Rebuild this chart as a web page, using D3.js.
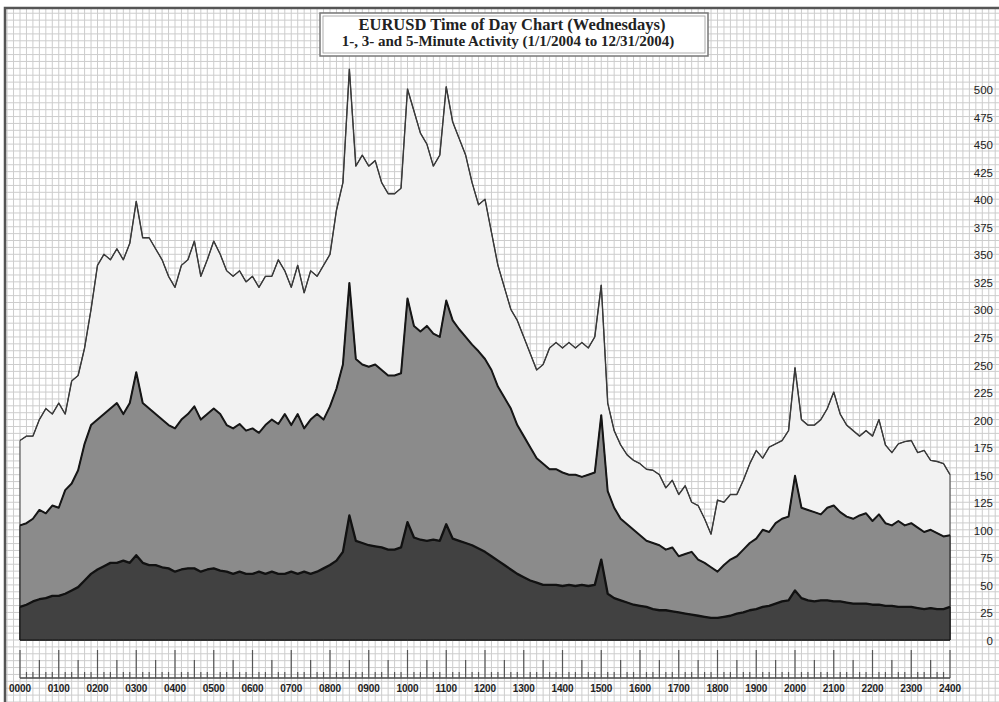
<!DOCTYPE html>
<html lang="en">
<head>
<meta charset="UTF-8">
<title>EURUSD Time of Day Chart</title>
<script src="https://d3js.org/d3.v7.min.js"></script>
<style>
  body { margin: 0; background: #fff; }
  svg { display: block; }
</style>
</head>
<body>
<div id="chart"></div>
<script>
// sample every 10 minutes, 0000 .. 2400
const minutes = d3.range(0, 1441, 10);

// 5-minute activity (light area)
const fiveMin = [
  181,185,185,200,210,205,   // 00
  215,205,235,240,265,300,   // 01
  340,350,345,355,345,360,   // 02
  398,365,365,355,345,330,   // 03
  320,340,345,362,330,345,   // 04
  362,350,335,330,335,325,   // 05
  330,320,330,330,345,335,   // 06
  320,340,315,335,330,340,   // 07
  350,390,415,518,430,440,   // 08
  430,435,415,405,405,410,   // 09
  500,480,460,450,430,440,   // 10
  502,470,455,440,415,395,   // 11
  400,370,340,320,300,290,   // 12
  275,260,245,250,265,270,   // 13
  265,270,265,270,265,275,   // 14
  322,215,190,177,168,163,   // 15
  160,155,154,150,138,145,   // 16
  132,140,125,122,110,96,    // 17
  127,125,132,132,145,160,   // 18
  172,165,175,178,181,190,   // 19
  247,200,195,195,200,210,   // 20
  225,205,195,190,185,190,   // 21
  185,200,177,170,178,180,   // 22
  181,170,172,163,162,160,   // 23
  150                        // 24
];

// 3-minute activity (mid grey area)
const threeMin = [
  104,106,110,118,115,122,   // 00
  120,136,142,154,178,195,   // 01
  200,205,210,215,205,215,   // 02
  243,215,210,205,200,195,   // 03
  192,200,205,212,200,205,   // 04
  210,205,195,192,196,190,   // 05
  192,188,195,200,196,205,   // 06
  195,205,192,200,205,200,   // 07
  212,228,250,324,255,250,   // 08
  248,250,245,240,240,242,   // 09
  310,285,280,285,278,275,   // 10
  308,290,282,275,268,262,   // 11
  255,245,230,220,210,195,   // 12
  185,175,165,160,155,155,   // 13
  152,150,150,148,150,152,   // 14
  204,135,120,110,105,100,   // 15
  95,90,88,86,82,84,         // 16
  76,78,80,73,70,66,         // 17
  62,68,73,76,82,88,         // 18
  92,100,98,106,110,112,     // 19
  149,120,118,116,114,120,   // 20
  122,116,112,110,113,115,   // 21
  108,114,106,104,108,104,   // 22
  106,102,98,100,97,94,      // 23
  95                         // 24
];

// 1-minute activity (dark area)
const oneMin = [
  30,32,35,37,38,40,         // 00
  40,42,45,48,54,60,         // 01
  64,67,70,70,72,70,         // 02
  77,70,68,68,66,65,         // 03
  62,64,65,65,62,64,         // 04
  65,63,62,60,62,60,         // 05
  60,62,60,62,60,60,         // 06
  62,60,62,60,62,65,         // 07
  68,72,80,113,90,88,        // 08
  86,85,84,82,82,84,         // 09
  107,93,91,90,91,90,        // 10
  105,92,90,88,86,83,        // 11
  80,76,72,68,64,60,         // 12
  57,54,52,50,50,50,         // 13
  49,50,49,50,49,50,         // 14
  73,42,38,36,34,32,         // 15
  31,30,28,27,27,26,         // 16
  25,24,23,22,21,20,         // 17
  20,21,22,24,25,27,         // 18
  28,30,31,33,35,36,         // 19
  45,38,36,35,36,36,         // 20
  35,35,34,33,33,33,         // 21
  32,32,31,31,30,30,         // 22
  30,29,28,29,28,28,         // 23
  30                         // 24
];

const hourLabels = ["0000","0100","0200","0300","0400","0500","0600","0700","0800","0900",
  "1000","1100","1200","1300","1400","1500","1600","1700","1800","1900",
  "2000","2100","2200","2300","2400"];
const yTicks = [0,25,50,75,100,125,150,175,200,225,250,275,300,325,350,375,400,425,450,475,500];

const W = 999, H = 702;
const svg = d3.select("#chart").append("svg")
  .attr("width", W).attr("height", H);

const x = d3.scaleLinear().domain([0, 1440]).range([20, 950]);
const y = d3.scaleLinear().domain([0, 500]).range([640, 89]);

// background graph-paper grid
const grid = svg.append("g");
const gx = (x(10) - x(0)), gy = (y(0) - y(6.25));
for (let px = x(0) - 2 * gx; px < W; px += gx) {
  grid.append("line").attr("x1", px).attr("x2", px).attr("y1", 9).attr("y2", H)
    .attr("stroke", "#cdcdcd").attr("stroke-width", 1);
}
for (let py = y(0) + 9 * gy; py > 9; py -= gy) {
  grid.append("line").attr("x1", 6).attr("x2", W).attr("y1", py).attr("y2", py)
    .attr("stroke", "#cdcdcd").attr("stroke-width", 1);
}

// outer frame
svg.append("rect").attr("x", 5).attr("y", 8).attr("width", W + 10).attr("height", H + 10)
  .attr("fill", "none").attr("stroke", "#555").attr("stroke-width", 2.5);

// areas
const series = [
  {vals: fiveMin,  fill: "#f2f2f2", line: "#3a3a3a", lw: 1.4},
  {vals: threeMin, fill: "#8b8b8b", line: "#161616", lw: 2},
  {vals: oneMin,   fill: "#414141", line: "#111111", lw: 2.3}
];
const area = d3.area().x((d, i) => x(minutes[i])).y0(y(0)).y1(d => y(d));
const line = d3.line().x((d, i) => x(minutes[i])).y(d => y(d));
series.forEach(s => {
  svg.append("path").datum(s.vals)
    .attr("d", area)
    .attr("fill", s.fill)
    .attr("stroke", s.line).attr("stroke-width", 1);
  svg.append("path").datum(s.vals)
    .attr("d", line)
    .attr("fill", "none")
    .attr("stroke", s.line).attr("stroke-width", s.lw)
    .attr("stroke-linejoin", "round");
});

// y labels on the right
svg.append("g").selectAll("text").data(yTicks).join("text")
  .attr("x", 993).attr("y", d => y(d) + 2)
  .attr("text-anchor", "end")
  .attr("dominant-baseline", "middle")
  .style("font-family", "'Liberation Sans', Arial, sans-serif")
  .style("font-size", "11.5px")
  .style("fill", "#222")
  .text(d => d);

// x axis: baseline with 10 / 30 / 60 minute ticks
const axisY = 678;
const xAxis = svg.append("g");
xAxis.append("line").attr("x1", x(0)).attr("x2", x(1440))
  .attr("y1", axisY).attr("y2", axisY).attr("stroke", "#444").attr("stroke-width", 1.5);
xAxis.selectAll("line.tick").data(minutes).join("line")
  .attr("class", "tick")
  .attr("x1", d => x(d)).attr("x2", d => x(d))
  .attr("y1", axisY)
  .attr("y2", d => d % 60 === 0 ? axisY - 28 : d % 30 === 0 ? axisY - 18 : axisY - 6)
  .attr("stroke", "#555").attr("stroke-width", 1.2);
xAxis.selectAll("text").data(hourLabels).join("text")
  .attr("x", (d, i) => x(i * 60))
  .attr("y", 689)
  .attr("text-anchor", "middle")
  .attr("dominant-baseline", "middle")
  .style("font-family", "'Liberation Sans', Arial, sans-serif")
  .style("font-size", "10px")
  .style("font-weight", "bold")
  .style("fill", "#222")
  .text(d => d);

// title box
const tb = svg.append("g");
tb.append("rect").attr("x", 320).attr("y", 13).attr("width", 388).attr("height", 43)
  .attr("fill", "#fff").attr("stroke", "#777").attr("stroke-width", 1.5);
tb.append("rect").attr("x", 323).attr("y", 16).attr("width", 382).attr("height", 37)
  .attr("fill", "none").attr("stroke", "#999").attr("stroke-width", 0.8);
tb.append("text").attr("x", 512).attr("y", 26)
  .attr("text-anchor", "middle").attr("dominant-baseline", "middle")
  .style("font-family", "'Liberation Serif', 'Times New Roman', serif")
  .style("font-size", "16.5px").style("font-weight", "bold").style("fill", "#222")
  .text("EURUSD Time of Day Chart (Wednesdays)");
tb.append("text").attr("x", 508).attr("y", 43)
  .attr("text-anchor", "middle").attr("dominant-baseline", "middle")
  .style("font-family", "'Liberation Serif', 'Times New Roman', serif")
  .style("font-size", "15px").style("font-weight", "bold").style("fill", "#222")
  .text("1-, 3- and 5-Minute Activity (1/1/2004 to 12/31/2004)");
</script>
</body>
</html>
